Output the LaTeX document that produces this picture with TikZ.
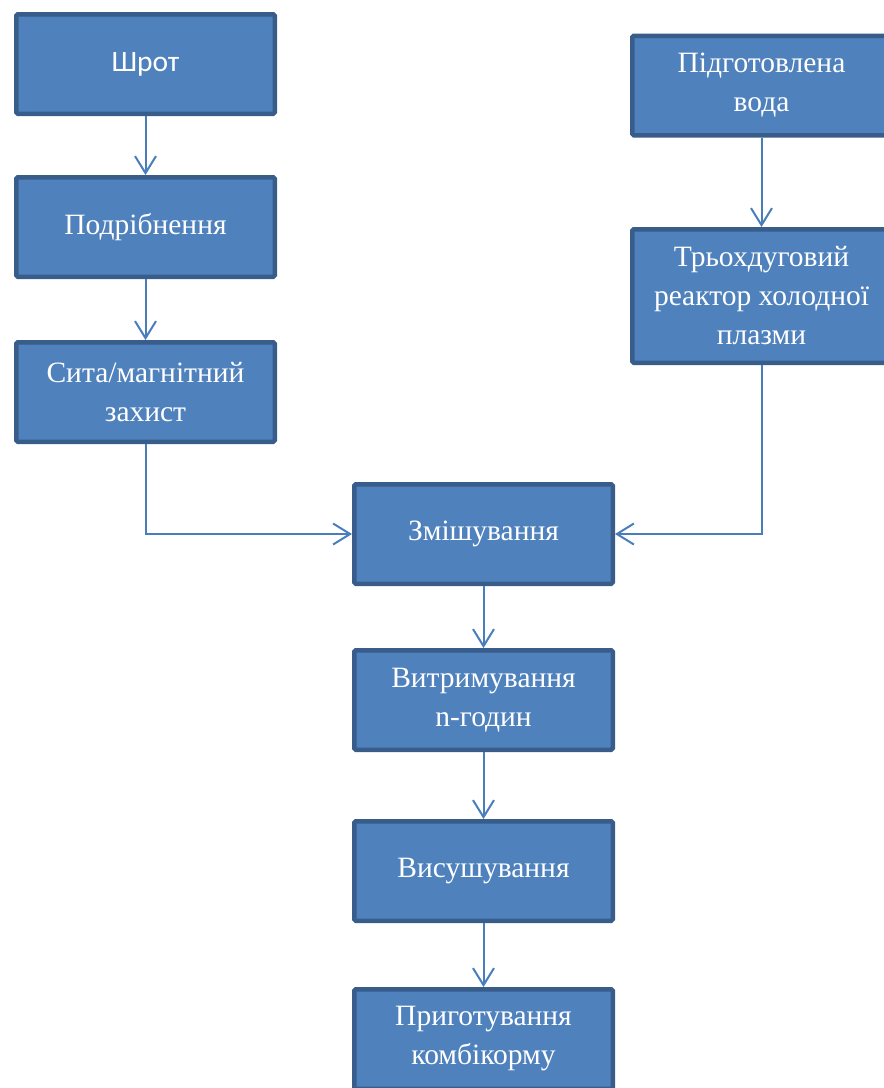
\documentclass[tikz,border=0pt]{standalone}
\usepackage{fontspec}
\setmainfont{Liberation Serif}
\newfontfamily\sansbox{Carlito}
\usetikzlibrary{graphs,arrows.meta}

\definecolor{boxfill}{HTML}{4F81BD}
\definecolor{boxline}{HTML}{385D8A}
\definecolor{flowline}{HTML}{4A7EBB}

\tikzset{
  stage/.style={draw=boxline, line width=4.5pt, fill=boxfill, rounded corners=1.5pt,
    text=white, align=center, minimum width=258.5pt, minimum height=99.5pt,
    font=\fontsize{29.5}{39}\selectfont},
  flow/.style={draw=flowline, line width=2pt, >={Straight Barb[length=17pt,width=21pt]}}
}

\begin{document}
\begin{tikzpicture}[x=1pt,y=-1pt]
      \clip (0,0) rectangle (884,1088);

      \node[stage, font=\sansbox\fontsize{29.5}{39}\selectfont] (shrot) at (145.5,64) {Шрот};
      \node[stage] (grind) at (145.5,227) {Подрібнення};
      \node[stage] (sieve) at (145.5,392) {Сита/магнітний\\захист};
      \node[stage] (water) at (761.5,85.5) {Підготовлена\\вода};
      \node[stage, minimum height=133.5pt] (reactor) at (761.5,296) {Трьохдуговий\\реактор холодної\\плазми};
      \node[stage] (mix) at (483.5,534) {Змішування};
      \node[stage] (hold) at (483.5,700) {Витримування\\n-годин};
      \node[stage] (dry) at (483.5,871) {Висушування};
      \node[stage] (feed) at (483.5,1039) {Приготування\\комбікорму};

      \graph[edges=flow]{
        (shrot) -> (grind);
        (grind) -> (sieve);
        (water) -> (reactor);
        (mix) -> (hold);
        (hold) -> (dry);
        (dry) -> (feed)
      };
      \draw[flow,->] (sieve) |- (mix);
      \draw[flow,->] (reactor) |- (mix);
    \end{tikzpicture}
\end{document}
